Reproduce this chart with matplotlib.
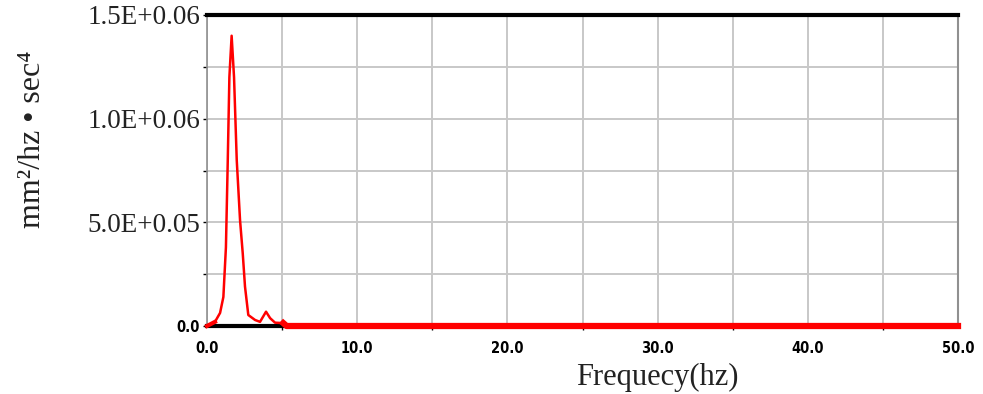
import numpy as np
import matplotlib
matplotlib.use("Agg")
import matplotlib.pyplot as plt
from matplotlib.ticker import FixedLocator

# spectrum
freq = [0.0, 0.53, 0.87, 1.09, 1.26, 1.38, 1.49, 1.64, 1.80, 1.98, 2.2, 2.38,
        2.53, 2.75, 3.2, 3.53, 3.93, 4.2, 4.53, 5.08, 5.3, 50.0]
psd = [0.0, 0.02e6, 0.063e6, 0.14e6, 0.38e6, 0.79e6, 1.20e6, 1.40e6, 1.20e6,
       0.80e6, 0.51e6, 0.35e6, 0.19e6, 0.053e6, 0.029e6, 0.02e6, 0.069e6,
       0.038e6, 0.016e6, 0.014e6, 0.0, 0.0]

xticks = [0, 10, 20, 30, 40, 50]
xlabels = ["0.0", "10.0", "20.0", "30.0", "40.0", "50.0"]
yticks = [0, 0.5e6, 1.0e6, 1.5e6]
ylabels = ["0.0", "5.0E+0.05", "1.0E+0.06", "1.5E+0.06"]

freq = np.array(freq)
psd = np.array(psd)

serif = ["Liberation Serif", "DejaVu Serif"]

fig = plt.figure(figsize=(9.83, 3.94), dpi=100)
ax = fig.add_axes([207/983, 68/394, 751/983, 311/394])

ax.plot(freq, psd, color="red", lw=1.8, zorder=3, clip_on=False)
tail = freq >= 5.0
ax.plot(freq[tail], psd[tail], color="red", lw=4.5, zorder=4, clip_on=False)
head = freq <= 0.53
ax.plot(freq[head], psd[head], color="red", lw=3, zorder=4, clip_on=False)

ax.set_xlim(0, 50)
ax.set_ylim(0, 1.5e6)
ax.set_xticks(xticks)
ax.set_xticklabels(xlabels, family="DejaVu Sans", fontstretch="condensed",
                   fontsize=10.5, fontweight="bold")
ax.xaxis.set_minor_locator(FixedLocator(np.arange(5, 50, 10)))
ax.set_yticks(yticks)
ax.set_yticklabels(ylabels, family=serif, fontsize=19.5, color="#222222")
lab0 = ax.get_yticklabels()[0]
lab0.set_family("DejaVu Sans")
lab0.set_fontstretch("condensed")
lab0.set_fontsize(10.5)
lab0.set_fontweight("bold")
lab0.set_color("black")
ax.yaxis.set_minor_locator(FixedLocator([0.25e6, 0.75e6, 1.25e6]))

ax.tick_params(which="both", direction="out", length=3, width=1, color="black", pad=2)
ax.tick_params(axis="x", which="major", length=0, pad=11)
ax.tick_params(axis="x", which="minor", length=3)

ax.grid(which="both", color="#c8c8c8", lw=1.4)
ax.set_axisbelow(True)

ax.spines["top"].set_color("black")
ax.spines["top"].set_linewidth(3)
ax.spines["right"].set_color("#909090")
ax.spines["right"].set_linewidth(1.5)
ax.spines["left"].set_color("#909090")
ax.spines["left"].set_linewidth(1.2)
ax.spines["bottom"].set_color("black")
ax.spines["bottom"].set_linewidth(3)

ax.set_xlabel("Frequecy(hz)", family=serif, fontsize=22, color="#222222")
ax.xaxis.label.set_va("center")
ax.xaxis.set_label_coords(0.6, -0.167)
ax.set_ylabel("mm²/hz • sec⁴", family=serif, fontsize=23, color="#222222")
ax.yaxis.label.set_va("center")
ax.yaxis.set_label_coords(-0.232, 0.6)

fig.savefig("out.png", dpi=100)
